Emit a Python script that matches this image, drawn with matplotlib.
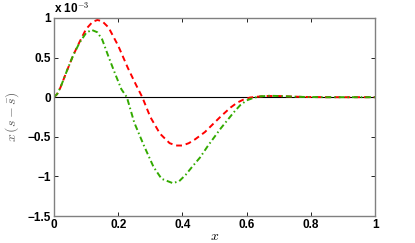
import numpy as np
import matplotlib
matplotlib.use("Agg")
import matplotlib.pyplot as plt

# values, y in units of 1e-3
x_red = [0, 0.01, 0.02, 0.04, 0.06, 0.08, 0.10, 0.12, 0.135, 0.15, 0.17, 0.20, 0.23, 0.255, 0.275,
         0.30, 0.33, 0.36, 0.38, 0.40, 0.42, 0.44, 0.47, 0.50, 0.52, 0.55, 0.57, 0.59, 0.61,
         0.63, 0.66, 0.70, 0.74, 0.78, 0.85, 1.0]
y_red = [0, 0.04, 0.12, 0.33, 0.53, 0.70, 0.86, 0.95, 0.975, 0.96, 0.88, 0.65, 0.37, 0.16, 0.0,
         -0.25, -0.46, -0.58, -0.61, -0.61, -0.58, -0.53, -0.44, -0.32, -0.24, -0.13, -0.07,
         -0.03, -0.005, 0.005, 0.015, 0.015, 0.008, 0.003, 0, 0]

x_green = [0, 0.01, 0.02, 0.04, 0.06, 0.08, 0.10, 0.117, 0.135, 0.15, 0.17, 0.19, 0.21, 0.227,
           0.25, 0.28, 0.31, 0.335, 0.37, 0.39, 0.41, 0.43, 0.455, 0.48, 0.50, 0.52, 0.54,
           0.56, 0.58, 0.60, 0.62, 0.64, 0.67, 0.70, 0.74, 0.78, 0.85, 1.0]
y_green = [0, 0.04, 0.12, 0.33, 0.53, 0.69, 0.81, 0.85, 0.82, 0.73, 0.51, 0.30, 0.10, 0.0,
           -0.32, -0.61, -0.88, -1.03, -1.085, -1.06, -0.98, -0.88, -0.76, -0.61, -0.50,
           -0.39, -0.29, -0.19, -0.10, -0.04, -0.01, 0.01, 0.018, 0.015, 0.008, 0.003, 0, 0]

xticks = [0, 0.2, 0.4, 0.6, 0.8, 1]
yticks = [-1.5, -1, -0.5, 0, 0.5, 1]

plt.rcParams['font.family'] = ['Liberation Sans', 'DejaVu Sans']
plt.rcParams['mathtext.fontset'] = 'cm'

fig = plt.figure(figsize=(4.15, 2.43), dpi=100)
ax = fig.add_axes([0.130, 0.111, 0.774, 0.815])

ax.axhline(0, color='black', lw=0.8)
ax.plot(x_red, np.array(y_red), '--', color='red', lw=1.4, dashes=(3, 2))
ax.plot(x_green, np.array(y_green), '-.', color='#33aa00', lw=1.4, dashes=(3, 1.5, 0.8, 1.5))

ax.set_xlim(0, 1)
ax.set_ylim(-1.5, 1)
ax.set_xticks(xticks)
ax.set_xticklabels([('%g' % t) for t in xticks], fontweight='bold', fontsize=8.5)
ax.set_yticks(yticks)
ax.set_yticklabels([('%g' % t).replace('-', '\u2212') for t in yticks], fontweight='bold', fontsize=8.5)
ax.tick_params(direction='in', length=3, top=True, right=True, width=0.6, pad=2)
for s in ax.spines.values():
    s.set_color('#808080')
    s.set_linewidth(1.0)

ax.text(0.0, 1.01, r'x 10$^{\mathbf{-3}}$', transform=ax.transAxes, fontsize=8.5,
        fontweight='bold', ha='left', va='bottom')
ax.set_xlabel(r'$x$', fontsize=10, labelpad=-1)
ax.set_ylabel(r'$x\,(s-\bar{s})$', fontsize=10, color='#666666', labelpad=5)

fig.savefig('out.png', dpi=100)
